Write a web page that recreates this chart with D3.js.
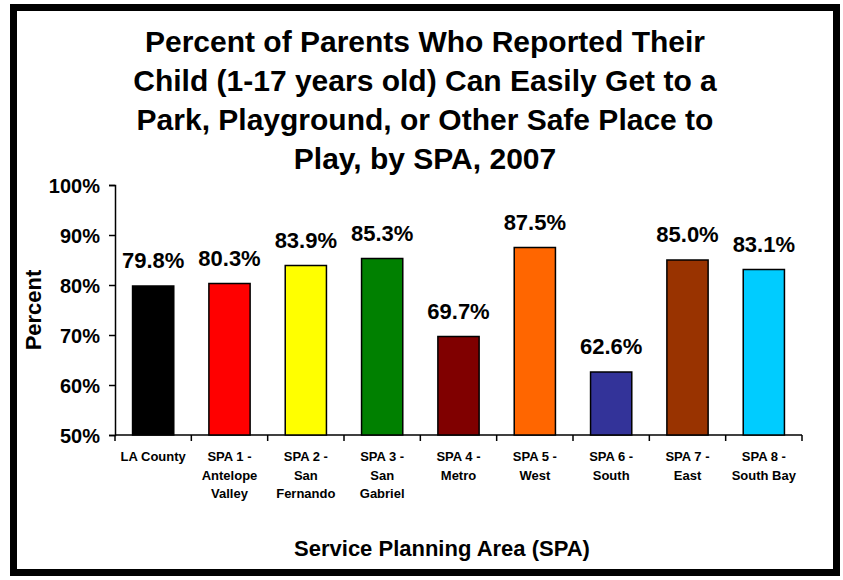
<!DOCTYPE html>
<html><head><meta charset="utf-8">
<script src="https://cdn.jsdelivr.net/npm/d3@7"></script>
<style>body{margin:0;background:#fff}svg{display:block}text{font-family:Arial,"Liberation Sans",sans-serif;font-weight:bold;fill:#000}</style>
</head><body>
<script>
const categories = [["LA County"],["SPA 1 -","Antelope","Valley"],["SPA 2 -","San","Fernando"],["SPA 3 -","San","Gabriel"],["SPA 4 -","Metro"],["SPA 5 -","West"],["SPA 6 -","South"],["SPA 7 -","East"],["SPA 8 -","South Bay"]];
const values = [79.8, 80.3, 83.9, 85.3, 69.7, 87.5, 62.6, 85.0, 83.1];
const colors = ["#000000","#FF0000","#FFFF00","#008000","#800000","#FF6600","#333399","#993300","#00CCFF"];
const yTicks = [50,60,70,80,90,100];
const titleLines = ["Percent of Parents Who Reported Their","Child (1-17 years old) Can Easily Get to a","Park, Playground, or Other Safe Place to","Play, by SPA, 2007"];

const W=843,H=580;
const svg=d3.select("body").append("svg").attr("width",W).attr("height",H);
svg.append("rect").attr("x",13.5).attr("y",7.5).attr("width",823).attr("height",565).attr("fill","#fff").attr("stroke","#000").attr("stroke-width",7);

const x=d3.scaleBand().domain(d3.range(values.length)).range([115,802]).paddingInner(0.46).paddingOuter(0.23);
const y=d3.scaleLinear().domain([50,100]).range([435,185]);

svg.selectAll(".title").data(titleLines).enter().append("text")
 .attr("x",425).attr("y",(d,i)=>52+i*39).attr("text-anchor","middle").style("font-size","30px").text(d=>d);

const ya=svg.append("g").attr("transform","translate(115,0)")
 .call(d3.axisLeft(y).tickValues(yTicks).tickSize(6).tickPadding(9).tickFormat(d=>d+"%"));
ya.selectAll("text").style("font-size","20px").attr("dy","0.36em");
ya.select(".domain").attr("stroke-width",1.5);
ya.selectAll(".tick line").attr("stroke-width",1.5);

const bw=x.step();
const xa=svg.append("g").attr("transform","translate(0,435)");
xa.append("line").attr("x1",115).attr("x2",802).attr("stroke","#000").attr("stroke-width",1.5);
xa.selectAll(".xt").data(d3.range(values.length+1)).enter().append("line")
 .attr("x1",i=>115+i*bw).attr("x2",i=>115+i*bw).attr("y1",0).attr("y2",6).attr("stroke","#000").attr("stroke-width",1.5);

svg.selectAll(".bar").data(values).enter().append("rect")
 .attr("x",(d,i)=>x(i)).attr("width",x.bandwidth()).attr("y",d=>y(d)).attr("height",d=>y(50)-y(d))
 .attr("fill",(d,i)=>colors[i]).attr("stroke","#000").attr("stroke-width",1.5);

svg.selectAll(".val").data(values).enter().append("text")
 .attr("x",(d,i)=>x(i)+x.bandwidth()/2).attr("y",d=>y(d)-18).attr("text-anchor","middle")
 .style("font-size","22px").text(d=>d.toFixed(1)+"%");

categories.forEach((lines,i)=>{
  const t=svg.append("text").attr("text-anchor","middle").style("font-size","13px");
  lines.forEach((l,j)=>t.append("tspan").attr("x",x(i)+x.bandwidth()/2).attr("y",461+j*18.5).text(l));
});

svg.append("text").attr("transform","translate(41,310) rotate(-90)").attr("text-anchor","middle").style("font-size","22px").text("Percent");
svg.append("text").attr("x",442).attr("y",556).attr("text-anchor","middle").style("font-size","22px").text("Service Planning Area (SPA)");
</script>
</body></html>
